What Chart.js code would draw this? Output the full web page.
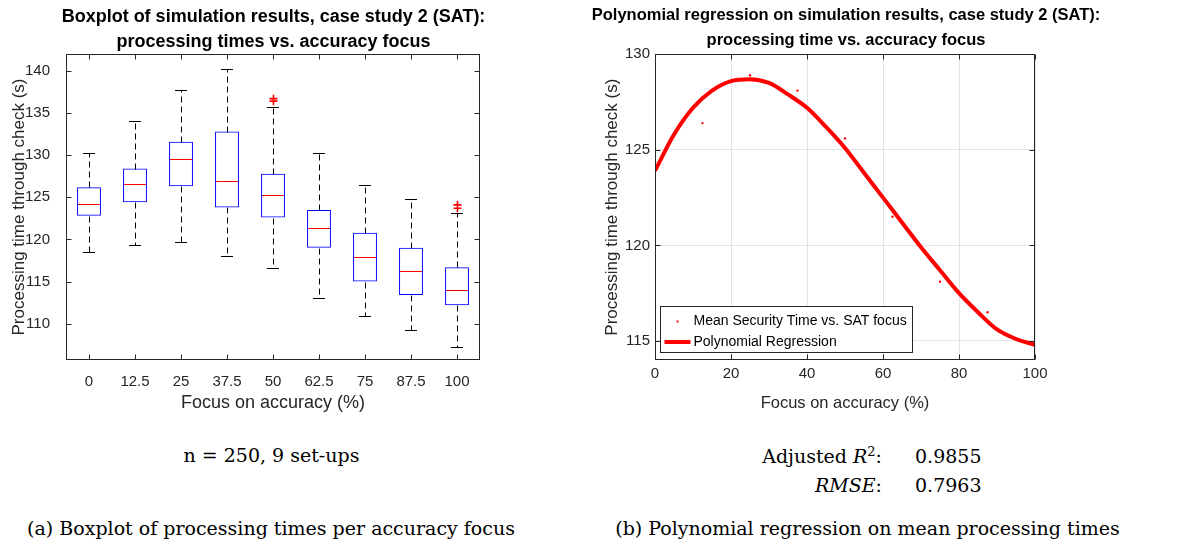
<!DOCTYPE html>
<html>
<head>
<meta charset="utf-8">
<script src="https://cdn.jsdelivr.net/npm/chart.js@4.4.1/dist/chart.umd.min.js"></script>
<style>
  body { margin: 0; background: #fff; width: 1179px; height: 544px; position: relative; overflow: hidden; }
  canvas { position: absolute; top: 0; }
  .txt { position: absolute; font-family: "DejaVu Serif", serif; font-size: 19px; color: #000; white-space: nowrap; line-height: 22px; }
</style>
</head>
<body>
<canvas id="boxChart" width="547" height="420" style="left:0"></canvas>
<canvas id="fitChart" width="516" height="420" style="left:588px"></canvas>

<div class="txt" style="left:0; width:543px; text-align:center; top:444px">n = 250, 9 set-ups</div>
<div class="txt" style="right:297px; text-align:right; top:445px">Adjusted <i>R</i><sup style="font-size:13px; line-height:0">2</sup>:</div>
<div class="txt" style="left:915px; top:445px">0.9855</div>
<div class="txt" style="right:297px; text-align:right; top:474px"><i>RMSE</i>:</div>
<div class="txt" style="left:915px; top:474px">0.7963</div>
<div class="txt" style="left:0; width:542px; text-align:center; top:517px">(a) Boxplot of processing times per accuracy focus</div>
<div class="txt" style="left:590px; width:555px; text-align:center; top:517px">(b) Polynomial regression on mean processing times</div>

<script>
// --- box plot: processing time per accuracy focus (n = 250 runs each) ---
const focusLabels = ['0', '12.5', '25', '37.5', '50', '62.5', '75', '87.5', '100'];
const whiskerLow  = [118.5, 119.3, 119.7, 118.0, 116.6, 113.0, 110.9, 109.3, 107.3];
const q1          = [122.8, 124.4, 126.3, 123.8, 122.6, 119.0, 115.0, 113.4, 112.2];
const medians     = [124.2, 126.6, 129.5, 126.9, 125.3, 121.4, 117.9, 116.3, 114.0];
const q3          = [126.2, 128.4, 131.6, 132.8, 127.8, 123.5, 120.8, 119.0, 116.7];
const whiskerHigh = [130.2, 134.0, 137.7, 140.2, 135.7, 130.2, 126.5, 124.8, 123.1];
const outliers    = [[], [], [], [], [136.7, 136.4], [], [], [], [124.1, 123.7]];
const boxTicks    = [110, 115, 120, 125, 130, 135, 140];

// --- regression: mean times and fitted polynomial ---
const meanFocus = [0, 12.5, 25, 37.5, 50, 62.5, 75, 87.5, 100];
const meanTimes = [124.4, 126.4, 128.9, 128.1, 125.6, 121.5, 118.1, 116.5, 114.9];
const fitFocus  = [0, 5, 10, 15, 20, 25, 30, 35, 40, 45, 50, 55, 60, 65, 70, 75, 80, 85, 90, 95, 100];
const fitTimes  = [123.9, 125.8, 127.2, 128.1, 128.6, 128.7, 128.5, 127.9, 127.2, 126.2, 125.1,
                   123.8, 122.5, 121.2, 119.9, 118.7, 117.5, 116.5, 115.6, 115.1, 114.8];
const fitXTicks = [0, 20, 40, 60, 80, 100];
const fitYTicks = [115, 120, 125, 130];

const SANS = '"Liberation Sans", Arial, sans-serif';
const AXIS = '#262626';

// matlab-style box: full frame with ticks pointing inwards on all four sides
const axesFrame = {
  id: 'axesFrame',
  afterDatasetsDraw(chart) {
    const { ctx, chartArea: a, scales } = chart;
    const L = Math.round(a.left) + 0.5, R = Math.round(a.right) - 0.5;
    const T = Math.round(a.top) + 0.5, B = Math.round(a.bottom) - 0.5;
    const len = 5;
    ctx.save();
    ctx.strokeStyle = AXIS;
    ctx.lineWidth = 1;
    ctx.strokeRect(L, T, R - L, B - T);
    ctx.beginPath();
    scales.x.ticks.forEach((t, i) => {
      const px = Math.round(scales.x.getPixelForTick(i)) + 0.5;
      ctx.moveTo(px, B); ctx.lineTo(px, B - len);
      ctx.moveTo(px, T); ctx.lineTo(px, T + len);
    });
    scales.y.ticks.forEach((t, i) => {
      const py = Math.round(scales.y.getPixelForTick(i)) + 0.5;
      ctx.moveTo(L, py); ctx.lineTo(L + len, py);
      ctx.moveTo(R, py); ctx.lineTo(R - len, py);
    });
    ctx.stroke();
    ctx.restore();
  }
};

// medians, dashed whiskers, caps and '+' outliers on top of the IQR bars
const boxExtras = {
  id: 'boxExtras',
  afterDatasetsDraw(chart) {
    const { ctx, scales: { x, y } } = chart;
    const bars = chart.getDatasetMeta(0).data;
    ctx.save();
    focusLabels.forEach((lab, i) => {
      const cx = x.getPixelForValue(i);
      const half = bars[i].width / 2;
      const cap = half / 2;
      const yp = v => Math.round(y.getPixelForValue(v)) + 0.5;
      const xc = Math.round(cx) + 0.5;

      ctx.strokeStyle = '#000';
      ctx.lineWidth = 1;
      ctx.setLineDash([6, 4]);
      ctx.beginPath();
      ctx.moveTo(xc, yp(q3[i])); ctx.lineTo(xc, yp(whiskerHigh[i]));
      ctx.moveTo(xc, yp(q1[i])); ctx.lineTo(xc, yp(whiskerLow[i]));
      ctx.stroke();
      ctx.setLineDash([]);
      ctx.beginPath();
      ctx.moveTo(cx - cap, yp(whiskerHigh[i])); ctx.lineTo(cx + cap, yp(whiskerHigh[i]));
      ctx.moveTo(cx - cap, yp(whiskerLow[i])); ctx.lineTo(cx + cap, yp(whiskerLow[i]));
      ctx.stroke();

      ctx.strokeStyle = '#ff0000';
      ctx.beginPath();
      ctx.moveTo(cx - half + 1, yp(medians[i])); ctx.lineTo(cx + half - 1, yp(medians[i]));
      ctx.stroke();

      ctx.lineWidth = 1.6;
      ctx.beginPath();
      outliers[i].forEach(v => {
        const py = y.getPixelForValue(v);
        ctx.moveTo(xc - 4, py); ctx.lineTo(xc + 4, py);
        ctx.moveTo(xc, py - 4); ctx.lineTo(xc, py + 4);
      });
      ctx.stroke();
    });
    ctx.restore();
  }
};

// boxed legend in the lower-left corner of the regression axes
const fitLegend = {
  id: 'fitLegend',
  afterDraw(chart) {
    const { ctx, chartArea: a } = chart;
    const ds = chart.data.datasets;
    const bx = Math.round(a.left) + 5.5, by = Math.round(a.bottom) - 53.5;
    const bw = 252, bh = 46;
    ctx.save();
    ctx.fillStyle = '#fff';
    ctx.fillRect(bx, by, bw, bh);
    ctx.strokeStyle = AXIS;
    ctx.lineWidth = 1;
    ctx.strokeRect(bx, by, bw, bh);
    ctx.font = '14px ' + SANS;
    ctx.textBaseline = 'middle';
    // row 1: mean points
    ctx.fillStyle = '#ff0000';
    ctx.fillRect(bx + 16, by + 14, 2, 2);
    ctx.fillStyle = '#000';
    ctx.fillText(ds[1].label, bx + 33, by + 15);
    // row 2: fitted curve
    ctx.strokeStyle = '#ff0000';
    ctx.lineWidth = 4;
    ctx.beginPath();
    ctx.moveTo(bx + 4, by + 35.5); ctx.lineTo(bx + 30, by + 35.5);
    ctx.stroke();
    ctx.fillText(ds[0].label, bx + 33, by + 36);
    ctx.restore();
  }
};

new Chart(document.getElementById('boxChart'), {
  type: 'bar',
  data: {
    labels: focusLabels,
    datasets: [{
      label: 'IQR',
      data: q1.map((v, i) => [v, q3[i]]),
      backgroundColor: 'rgba(0,0,0,0)',
      borderColor: '#0000ff',
      borderWidth: 1,
      borderSkipped: false,
      barPercentage: 0.52,
      categoryPercentage: 1
    }]
  },
  options: {
    responsive: false,
    animation: false,
    devicePixelRatio: 1,
    plugins: {
      legend: { display: false },
      tooltip: { enabled: false },
      title: {
        display: true,
        text: ['Boxplot of simulation results, case study 2 (SAT):', 'processing times vs. accuracy focus'],
        font: { family: SANS, size: 18, weight: 'bold', lineHeight: 1.36 },
        color: '#000',
        padding: { top: 5, bottom: 0 }
      }
    },
    scales: {
      x: {
        offset: true,
        grid: { display: false },
        border: { display: false },
        ticks: { font: { family: SANS, size: 15 }, color: AXIS, padding: 5 },
        title: { display: true, text: 'Focus on accuracy (%)', font: { family: SANS, size: 18, lineHeight: 1.2 }, color: AXIS, padding: { bottom: 6 } },
        afterFit: s => { s.height = 60; }
      },
      y: {
        min: 105.7,
        max: 142,
        afterBuildTicks: s => { s.ticks = boxTicks.map(v => ({ value: v })); },
        grid: { display: false },
        border: { display: false },
        ticks: { font: { family: SANS, size: 15 }, color: AXIS, padding: 8 },
        title: { display: true, text: 'Processing time through check (s)', font: { family: SANS, size: 17, lineHeight: 1.2 }, color: AXIS, padding: { top: 9 } },
        afterFit: s => { s.width = 66; }
      },
      spacer: {
        position: 'right',
        grid: { display: false },
        border: { display: false },
        ticks: { display: false },
        afterFit: s => { s.width = 67; }
      }
    }
  },
  plugins: [boxExtras, axesFrame]
});

new Chart(document.getElementById('fitChart'), {
  type: 'line',
  data: {
    datasets: [{
      label: 'Polynomial Regression',
      data: fitFocus.map((f, i) => ({ x: f, y: fitTimes[i] })),
      borderColor: '#ff0000',
      borderWidth: 4,
      pointRadius: 0,
      cubicInterpolationMode: 'monotone',
      order: 1
    }, {
      label: 'Mean Security Time vs. SAT focus',
      data: meanFocus.map((f, i) => ({ x: f, y: meanTimes[i] })),
      showLine: false,
      pointRadius: 1.2,
      pointBorderWidth: 0,
      pointBackgroundColor: '#ff0000',
      order: 2
    }]
  },
  options: {
    responsive: false,
    animation: false,
    devicePixelRatio: 1,
    plugins: {
      legend: { display: false },
      tooltip: { enabled: false },
      title: {
        display: true,
        text: ['Polynomial regression on simulation results, case study 2 (SAT):', 'processing time vs. accuracy focus'],
        font: { family: SANS, size: 16.5, weight: 'bold', lineHeight: 1.515 },
        color: '#000',
        padding: { top: 2.5, bottom: 1.8 }
      }
    },
    scales: {
      x: {
        type: 'linear',
        min: 0,
        max: 100,
        afterBuildTicks: s => { s.ticks = fitXTicks.map(v => ({ value: v })); },
        grid: { color: '#e3e3e3', drawTicks: false },
        border: { display: false },
        ticks: { font: { family: SANS, size: 15 }, color: AXIS, padding: 4.5 },
        title: { display: true, text: 'Focus on accuracy (%)', font: { family: SANS, size: 16.5, lineHeight: 1.2 }, color: AXIS, padding: { bottom: 7 } },
        afterFit: s => { s.height = 60; }
      },
      y: {
        min: 114,
        max: 130,
        afterBuildTicks: s => { s.ticks = fitYTicks.map(v => ({ value: v })); },
        grid: { color: '#e3e3e3', drawTicks: false },
        border: { display: false },
        ticks: { font: { family: SANS, size: 15 }, color: AXIS, padding: 5 },
        title: { display: true, text: 'Processing time through check (s)', font: { family: SANS, size: 17, lineHeight: 1.2 }, color: AXIS, padding: { top: 14 } },
        afterFit: s => { s.width = 67; }
      },
      spacer: {
        position: 'right',
        grid: { display: false },
        border: { display: false },
        ticks: { display: false },
        afterFit: s => { s.width = 69; }
      }
    }
  },
  plugins: [axesFrame, fitLegend]
});
</script>
</body>
</html>
